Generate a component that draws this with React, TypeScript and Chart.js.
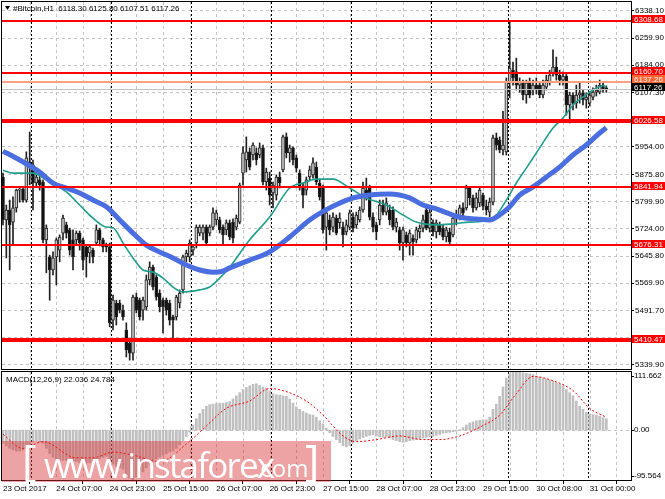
import React, { useEffect, useRef } from "react";
import { Chart, registerables } from "chart.js";
Chart.register(...registerables);

const FONT = "'Liberation Sans', Arial, sans-serif";

// ---------- DATA ----------
const opens = [
  5869, 5748, 5776, 5742, 5782, 5832, 5835, 5804, 5912, 5903,
  5852, 5861, 5855, 5692, 5644, 5607, 5644, 5663, 5711, 5734,
  5720, 5692, 5692, 5711, 5692, 5672, 5655, 5663, 5683, 5720,
  5692, 5677, 5672, 5466, 5514, 5514, 5494, 5438, 5401, 5373,
  5531, 5522, 5494, 5503, 5579, 5615, 5587, 5542, 5522, 5522,
  5514, 5475, 5475, 5514, 5551, 5644, 5644, 5663, 5683, 5711,
  5711, 5728, 5711, 5728, 5748, 5748, 5728, 5720, 5740, 5742,
  5728, 5742, 5880, 5917, 5940, 5931, 5937, 5931, 5951, 5855,
  5866, 5824, 5818, 5869, 5889, 5982, 5937, 5951, 5923, 5880,
  5841, 5832, 5869, 5875, 5897, 5852, 5841, 5728, 5748, 5728,
  5753, 5740, 5728, 5714, 5728, 5756, 5734, 5748, 5776, 5832,
  5838, 5756, 5734, 5748, 5790, 5770, 5776, 5776, 5728, 5720,
  5683, 5706, 5683, 5697, 5692, 5714, 5725, 5776, 5725, 5740,
  5714, 5734, 5725, 5700, 5714, 5706, 5753, 5753, 5782, 5782,
  5838, 5810, 5782, 5796, 5818, 5787, 5770, 5798, 5979, 5973,
  5945, 5940, 6137, 6170, 6165, 6128, 6134, 6100, 6134, 6114,
  6128, 6128, 6100, 6122, 6137, 6162, 6179, 6156, 6142, 6153,
  6072, 6100, 6077, 6100, 6106, 6086, 6077, 6094, 6108, 6108,
  6128, 6118.3,
];
const highs = [
  5880, 5790, 5804, 5813, 5835, 5838, 5841, 5940, 5996, 5917,
  5883, 5875, 5861, 5734, 5649, 5658, 5697, 5706, 5762, 5742,
  5725, 5720, 5717, 5717, 5697, 5677, 5677, 5669, 5734, 5725,
  5697, 5683, 5683, 5536, 5522, 5522, 5508, 5458, 5410, 5536,
  5542, 5528, 5531, 5593, 5630, 5621, 5593, 5551, 5528, 5528,
  5522, 5480, 5536, 5551, 5649, 5663, 5692, 5677, 5734, 5734,
  5734, 5734, 5734, 5782, 5776, 5756, 5734, 5748, 5748, 5751,
  5762, 5852, 5954, 5982, 5951, 5965, 5951, 5965, 5959, 5894,
  5883, 5855, 5875, 5883, 5987, 5993, 5959, 5954, 5931, 5889,
  5852, 5869, 5900, 5923, 5911, 5861, 5846, 5776, 5762, 5768,
  5762, 5768, 5742, 5748, 5776, 5768, 5770, 5785, 5855, 5866,
  5846, 5768, 5742, 5804, 5804, 5810, 5790, 5785, 5753, 5728,
  5728, 5714, 5720, 5706, 5728, 5734, 5762, 5790, 5782, 5748,
  5748, 5742, 5734, 5728, 5725, 5762, 5776, 5790, 5796, 5846,
  5841, 5818, 5824, 5841, 5824, 5804, 5810, 5987, 5993, 5982,
  6054, 6148, 6308, 6193, 6204, 6148, 6142, 6142, 6148, 6142,
  6148, 6137, 6142, 6156, 6170, 6227, 6207, 6170, 6165, 6159,
  6108, 6106, 6128, 6137, 6114, 6106, 6108, 6120, 6128, 6142,
  6137, 6125.8,
];
const lows = [
  5734, 5641, 5607, 5677, 5770, 5798, 5798, 5798, 5847, 5776,
  5841, 5832, 5683, 5599, 5522, 5593, 5565, 5630, 5692, 5697,
  5649, 5607, 5677, 5663, 5607, 5587, 5627, 5627, 5677, 5675,
  5658, 5658, 5447, 5438, 5452, 5486, 5466, 5362, 5353, 5353,
  5486, 5466, 5466, 5494, 5565, 5551, 5522, 5489, 5430, 5480,
  5452, 5416, 5466, 5500, 5542, 5630, 5630, 5649, 5669, 5703,
  5692, 5677, 5703, 5720, 5734, 5711, 5677, 5706, 5692, 5683,
  5720, 5737, 5846, 5883, 5889, 5917, 5903, 5923, 5847, 5832,
  5790, 5782, 5804, 5838, 5883, 5923, 5911, 5903, 5883, 5832,
  5782, 5818, 5861, 5866, 5847, 5804, 5711, 5663, 5706, 5714,
  5706, 5725, 5672, 5706, 5720, 5714, 5725, 5742, 5770, 5804,
  5748, 5714, 5692, 5734, 5762, 5762, 5734, 5720, 5714, 5663,
  5635, 5672, 5649, 5649, 5683, 5697, 5714, 5720, 5714, 5703,
  5697, 5706, 5692, 5686, 5677, 5700, 5734, 5748, 5753, 5776,
  5790, 5770, 5776, 5785, 5776, 5762, 5756, 5790, 5945, 5937,
  5931, 5931, 6092, 6128, 6114, 6108, 6086, 6077, 6092, 6100,
  6103, 6092, 6092, 6114, 6128, 6153, 6142, 6128, 6128, 6043,
  6021, 6058, 6063, 6077, 6072, 6063, 6069, 6086, 6097, 6103,
  6108, 6107.51,
];
const closes = [
  5748, 5776, 5734, 5782, 5832, 5835, 5804, 5923, 5900, 5852,
  5869, 5847, 5692, 5725, 5607, 5641, 5692, 5700, 5753, 5711,
  5663, 5644, 5711, 5683, 5635, 5644, 5672, 5644, 5720, 5692,
  5672, 5672, 5458, 5522, 5475, 5494, 5475, 5382, 5373, 5531,
  5494, 5475, 5522, 5579, 5615, 5559, 5531, 5503, 5503, 5494,
  5466, 5466, 5531, 5542, 5644, 5655, 5683, 5672, 5728, 5728,
  5728, 5683, 5728, 5768, 5768, 5720, 5706, 5740, 5700, 5697,
  5753, 5846, 5937, 5940, 5897, 5959, 5917, 5951, 5855, 5883,
  5818, 5846, 5869, 5852, 5982, 5937, 5951, 5917, 5894, 5841,
  5818, 5861, 5889, 5909, 5855, 5813, 5720, 5768, 5720, 5756,
  5711, 5753, 5706, 5734, 5768, 5725, 5762, 5776, 5838, 5818,
  5756, 5728, 5714, 5790, 5770, 5796, 5748, 5728, 5742, 5683,
  5720, 5683, 5711, 5686, 5720, 5725, 5748, 5725, 5770, 5714,
  5740, 5714, 5700, 5720, 5686, 5753, 5762, 5782, 5768, 5838,
  5810, 5782, 5810, 5832, 5787, 5776, 5798, 5979, 5959, 5945,
  5959, 6137, 6176, 6148, 6128, 6137, 6100, 6134, 6100, 6128,
  6114, 6100, 6128, 6142, 6156, 6179, 6156, 6142, 6153, 6072,
  6100, 6077, 6100, 6106, 6086, 6094, 6100, 6108, 6114, 6128,
  6117, 6117.26,
];

// moving averages (bar index, value)
const slowMaBars = [0, 5, 11, 15, 19, 23, 27, 31, 35, 39, 43, 47, 51, 55, 59, 63, 66, 68, 74, 80, 86, 92, 98, 104, 110, 116, 122, 126, 130, 134, 138, 142, 146, 149, 152, 155, 159, 163, 167, 171, 175, 179, 181];
const slowMaValues = [5942, 5917, 5883, 5852, 5838, 5824, 5804, 5785, 5748, 5711, 5677, 5658, 5641, 5621, 5607, 5601, 5604, 5613, 5635, 5658, 5700, 5748, 5782, 5807, 5818, 5821, 5810, 5790, 5779, 5765, 5754, 5751, 5748, 5762, 5785, 5818, 5841, 5869, 5897, 5931, 5959, 5993, 6008];
const fastMaBars = [0, 3, 9, 13, 19, 23, 27, 31, 33, 36, 39, 42, 45, 48, 51, 54, 59, 62, 65, 68, 74, 80, 86, 90, 94, 99, 104, 109, 115, 120, 124, 130, 135, 140, 145, 148, 151, 154, 157, 161, 165, 168, 171, 174, 177, 180, 181];
const fastMaValues = [5888, 5880, 5880, 5861, 5827, 5790, 5753, 5728, 5726, 5683, 5641, 5607, 5601, 5584, 5559, 5545, 5551, 5559, 5584, 5615, 5692, 5756, 5838, 5852, 5863, 5863, 5838, 5810, 5790, 5762, 5742, 5734, 5737, 5742, 5745, 5762, 5804, 5852, 5894, 5951, 6007, 6035, 6072, 6094, 6114, 6126, 6122];

// MACD main line (histogram) per bar
const macdValues = [
  -25, -30, -35, -38, -40, -40, -38, -35, -30,
  -22, -20, -22, -25, -35, -45,
  -52, -55, -57, -58, -58, -58, -60, -60, -62,
  -62, -63, -62, -60, -57, -55, -52, -50,
  -58, -65, -70, -72, -75, -85, -92, -95.564, -90,
  -85, -80, -72, -65, -60, -55, -52, -48,
  -45, -42, -40, -35, -28, -20, -12, -4,
  10, 22, 32, 40, 46, 49, 50, 51,
  52, 52, 53, 55, 60, 66, 72, 78,
  82, 85, 88, 89, 86, 83, 80, 75, 70, 68, 67, 66, 65, 60, 52, 45, 40, 36, 33, 30, 29, 25, 18, 12, 4,
  -5, -12, -18, -24, -30, -32, -30, -25, -20,
  -17, -14, -12, -10, -9, -11, -13, -14, -13,
  -15, -18, -20, -22, -23, -22, -20, -19, -18, -17,
  -15, -14, -13, -12, -10, -8, -6, -5, -4, -3, -2, 1,
  5, 10, 14, 16, 18, 19, 20, 20, 25,
  40, 50, 65, 83, 100, 108, 111, 111.662,
  111, 110, 109, 108, 107, 104, 102, 100, 98,
  96, 94, 91, 88, 85, 78, 72, 66, 56,
  46, 40, 34, 31, 30, 29, 27, 24, 22.036,
];
const signalBars = [0, 6, 12, 22, 27, 33, 39, 47, 56, 60, 67, 74, 80, 84, 91, 96, 102, 106, 112, 119, 126, 131, 137, 144, 149, 154, 159, 164, 171, 176, 181];
const signalValues = [-8, -35, -22, -53, -53, -42, -48, -60, -21, 2, 42, 56, 80, 76, 56, 29, -11, -22, -18, -11, -18, -18, -11, 9, 29, 70, 103, 97, 76, 42, 24.784];

// levels
const levelValues = [6308.68, 6160.70, 6137.26, 6117.26, 6026.58, 5841.94, 5676.31, 5410.47];
const priceTicks = [6338.10, 6259.90, 6184.00, 6107.30, 6030.60, 5954.00, 5875.80, 5799.90, 5724.00, 5645.80, 5569.90, 5491.70, 5415.80, 5339.90];
const macdTicks = [111.662, 0, -95.564];

// time axis
const labelBars = [0, 16, 32, 48, 64, 80, 96, 112, 128, 144, 160, 176];
const timeLabels = ["23 Oct 2017", "24 Oct 07:00", "24 Oct 23:00", "25 Oct 15:00", "26 Oct 07:00", "26 Oct 23:00", "27 Oct 15:00", "28 Oct 07:00", "28 Oct 23:00", "29 Oct 15:00", "30 Oct 08:00", "31 Oct 00:00"];
const gridBars = [8, 16, 24, 32, 40, 48, 56, 64, 72, 80, 88, 96, 104, 112, 120, 128, 136, 144, 152, 160, 168, 176, 184];
const sepBars = [9, 33, 57, 81, 105, 129, 152, 176];

const headerText = "#Bitcoin,H1  6118.30 6125.80 6107.51 6117.26";
const macdTitle = "MACD(12,26,9) 22.036 24.784";

// ---------- STYLES ----------
const levelColors = ["#ff0000", "#ff0000", "#ffa080", "#c0c0c0", "#ff0000", "#ff0000", "#ff0000", "#ff0000"];
const levelWidths = [2, 2, 2, 1, 4, 2, 2, 4];
const levelBoxColors = ["#ff0000", "#ff0000", "#ff6433", "#000000", "#ff0000", "#ff0000", "#ff0000", "#ff0000"];
const levelBoxShift = [-1.5, -2, -2.5, -1.5, -1, -1, -1, -1];

const X_MIN = -0.3;
const X_MAX = 188.4;

function drawVGrid(chart: any) {
  const { ctx, chartArea: a, scales } = chart;
  const x = scales.x;
  ctx.save();
  ctx.lineWidth = 1;
  ctx.strokeStyle = "#c4c4c4";
  ctx.setLineDash([3, 3]);
  gridBars.forEach((b) => {
    const px = Math.round(x.getPixelForValue(b)) + 0.5;
    if (px < a.left || px > a.right) return;
    ctx.beginPath();
    ctx.moveTo(px, a.top);
    ctx.lineTo(px, a.bottom);
    ctx.stroke();
  });
  ctx.strokeStyle = "#000";
  ctx.setLineDash([2, 2]);
  sepBars.forEach((b) => {
    const px = Math.round(x.getPixelForValue(b - 0.5)) + 0.5;
    ctx.beginPath();
    ctx.moveTo(px, a.top);
    ctx.lineTo(px, a.bottom);
    ctx.stroke();
  });
  ctx.restore();
}

const mainPlugin = {
  id: "mainDecor",
  beforeDatasetsDraw(chart: any) {
    drawVGrid(chart);
  },
  afterDatasetsDraw(chart: any) {
    const { ctx, chartArea: a, scales } = chart;
    const y = scales.y;
    ctx.save();
    levelValues.forEach((v, i) => {
      const py = y.getPixelForValue(v);
      const w = levelWidths[i];
      const yy = w % 2 === 1 ? Math.round(py) + 0.5 : Math.round(py);
      ctx.strokeStyle = levelColors[i];
      ctx.lineWidth = w;
      ctx.beginPath();
      ctx.moveTo(a.left, yy);
      ctx.lineTo(a.right, yy);
      ctx.stroke();
    });
    ctx.restore();
  },
  afterDraw(chart: any) {
    const { ctx, chartArea: a, scales } = chart;
    const y = scales.y;
    ctx.save();
    // frame
    ctx.strokeStyle = "#000";
    ctx.lineWidth = 1;
    ctx.strokeRect(1.5, 1.5, a.right - 1, a.bottom - 1);
    // level boxes
    ctx.font = `8px ${FONT}`;
    ctx.textBaseline = "middle";
    ctx.textAlign = "left";
    levelValues.forEach((v, i) => {
      const py = y.getPixelForValue(v) + levelBoxShift[i];
      ctx.fillStyle = levelBoxColors[i];
      ctx.fillRect(a.right + 1, Math.round(py - 4), 665 - a.right, 8);
      ctx.fillStyle = "#fff";
      ctx.fillText(v.toFixed(2), a.right + 3, Math.round(py) + 0.5);
    });
    // header
    ctx.fillStyle = "#000";
    ctx.beginPath();
    ctx.moveTo(5, 6);
    ctx.lineTo(10, 6);
    ctx.lineTo(7.5, 10);
    ctx.closePath();
    ctx.fill();
    ctx.fillText(headerText, 13, 8.5);
    ctx.restore();
  },
};

const macdPlugin = {
  id: "macdDecor",
  beforeDatasetsDraw(chart: any) {
    drawVGrid(chart);
    const { ctx, chartArea: a, scales } = chart;
    const zy = Math.round(scales.y.getPixelForValue(0)) + 0.5;
    ctx.save();
    ctx.strokeStyle = "#c4c4c4";
    ctx.setLineDash([3, 3]);
    ctx.beginPath();
    ctx.moveTo(a.left, zy);
    ctx.lineTo(a.right, zy);
    ctx.stroke();
    ctx.restore();
  },
  afterDraw(chart: any) {
    const { ctx, chartArea: a, scales } = chart;
    ctx.save();
    ctx.strokeStyle = "#000";
    ctx.lineWidth = 1;
    ctx.strokeRect(1.5, a.top - 0.5, a.right - 1, a.bottom - a.top + 1);
    ctx.font = `8px ${FONT}`;
    ctx.fillStyle = "#000";
    ctx.textBaseline = "middle";
    ctx.textAlign = "left";
    ctx.fillText(macdTitle, 6, a.top + 8);
    macdTicks.forEach((v, i) => {
      let py = scales.y.getPixelForValue(v);
      if (i === 0) py += 4;
      if (i === macdTicks.length - 1) py -= 4;
      const label = v === 0 ? "0.00" : v.toFixed(3);
      ctx.beginPath();
      ctx.moveTo(a.right, Math.round(py) + 0.5);
      ctx.lineTo(a.right + 3, Math.round(py) + 0.5);
      ctx.stroke();
      ctx.fillText(label, a.right + 3, py);
    });
    ctx.restore();
  },
};

export default function App() {
  const mainRef = useRef<HTMLCanvasElement>(null);
  const macdRef = useRef<HTMLCanvasElement>(null);

  useEffect(() => {
    document.body.style.margin = "0";
    const bars = opens.map((_, i) => i);
    const wickData = bars.map((i) => ({ x: i, y: [lows[i], highs[i]] }));
    const bodyData = bars.map((i) => ({ x: i, y: [opens[i], closes[i]] }));
    const slowData = slowMaBars.map((b, i) => ({ x: b, y: slowMaValues[i] }));
    const fastData = fastMaBars.map((b, i) => ({ x: b, y: fastMaValues[i] }));

    const main = new Chart(mainRef.current!, {
      type: "bar",
      data: {
        datasets: [
          {
            type: "line",
            data: slowData as any,
            borderColor: "#4a6ee0",
            borderWidth: 5,
            pointRadius: 0,
            cubicInterpolationMode: "monotone",
            order: 1,
          } as any,
          {
            type: "line",
            data: fastData as any,
            borderColor: "#1f9e8e",
            borderWidth: 1.6,
            pointRadius: 0,
            cubicInterpolationMode: "monotone",
            order: 2,
          } as any,
          {
            type: "bar",
            data: bodyData as any,
            backgroundColor: (c: any) => (closes[c.dataIndex] >= opens[c.dataIndex] ? "#c8c8c8" : "#101010"),
            borderColor: "#202020",
            borderWidth: 1,
            borderSkipped: false,
            barThickness: 3,
            minBarLength: 1,
            grouped: false,
            order: 4,
          } as any,
          {
            type: "bar",
            data: wickData as any,
            backgroundColor: "#202020",
            barThickness: 1,
            grouped: false,
            order: 5,
          } as any,
        ],
      },
      options: {
        responsive: false,
        animation: false,
        events: [],
        layout: { padding: { left: 2, top: 2, right: 0, bottom: 1 } },
        plugins: { legend: { display: false }, tooltip: { enabled: false } },
        scales: {
          x: { type: "linear", min: X_MIN, max: X_MAX, display: false, offset: false },
          y: {
            position: "right",
            min: 5328.1,
            max: 6362.0,
            afterBuildTicks: (s: any) => {
              s.ticks = priceTicks.map((v) => ({ value: v }));
            },
            afterFit: (s: any) => {
              s.width = 34;
              s.paddingTop = 0;
              s.paddingBottom = 0;
            },
            ticks: {
              callback: (v: any) => Number(v).toFixed(2),
              font: { family: FONT, size: 8 },
              color: "#000",
              padding: 1,
            },
            grid: { color: "#c4c4c4", tickColor: "#000", tickLength: 3, tickBorderDash: [] },
            border: { display: false, dash: [3, 3] },
          },
        },
      } as any,
      plugins: [mainPlugin],
    });

    const histData = bars.map((i) => ({ x: i, y: macdValues[i] }));
    const sigData = signalBars.map((b, i) => ({ x: b, y: signalValues[i] }));

    const macd = new Chart(macdRef.current!, {
      type: "bar",
      data: {
        datasets: [
          {
            type: "line",
            data: sigData as any,
            borderColor: "#ff0000",
            borderWidth: 1,
            borderDash: [2, 2],
            pointRadius: 0,
            cubicInterpolationMode: "monotone",
            order: 1,
          } as any,
          {
            type: "bar",
            data: histData as any,
            backgroundColor: "#c0c0c0",
            barThickness: 2,
            grouped: false,
            order: 2,
          } as any,
        ],
      },
      options: {
        responsive: false,
        animation: false,
        events: [],
        layout: { padding: { left: 2, top: 2, right: 0, bottom: 0 } },
        plugins: { legend: { display: false }, tooltip: { enabled: false } },
        scales: {
          x: {
            type: "linear",
            min: X_MIN,
            max: X_MAX,
            offset: false,
            afterBuildTicks: (s: any) => {
              s.ticks = labelBars.map((v) => ({ value: v }));
            },
            afterFit: (s: any) => {
              s.height = 19;
              s.paddingLeft = 0;
              s.paddingRight = 0;
            },
            ticks: {
              callback: (_v: any, idx: number) => timeLabels[idx],
              align: "start",
              autoSkip: false,
              maxRotation: 0,
              minRotation: 0,
              padding: 0,
              font: { family: FONT, size: 8 },
              color: "#000",
            },
            grid: { drawOnChartArea: false, drawTicks: true, tickLength: 4, tickColor: "#000" },
            border: { display: false },
          },
          y: {
            position: "right",
            min: -95.564,
            max: 111.662,
            afterFit: (s: any) => {
              s.width = 34;
              s.paddingTop = 0;
              s.paddingBottom = 0;
            },
            ticks: { display: false },
            grid: { display: false },
            border: { display: false },
          },
        },
      } as any,
      plugins: [macdPlugin],
    });

    return () => {
      main.destroy();
      macd.destroy();
    };
  }, []);

  return (
    <div style={{ position: "relative", width: 665, height: 499, background: "#fff", overflow: "hidden" }}>
      <canvas ref={mainRef} width={665} height={370} style={{ position: "absolute", left: 0, top: 0, width: 665, height: 370 }} />
      <canvas ref={macdRef} width={665} height={129} style={{ position: "absolute", left: 0, top: 370, width: 665, height: 129 }} />
      <div
        style={{
          position: "absolute",
          left: 2,
          top: 441,
          width: 329,
          height: 41,
          background: "rgba(215,50,50,0.45)",
          overflow: "hidden",
          color: "#fff",
          fontFamily: "'Open Sans', sans-serif",
          whiteSpace: "nowrap",
          lineHeight: 1,
        }}
      >
        <span style={{ position: "absolute", left: 20, top: -4, fontSize: 44 }}>[</span>
        <span style={{ position: "absolute", left: 42, top: 6, fontSize: 35, letterSpacing: -1.8 }}>www.instaforex</span>
        <span style={{ position: "absolute", left: 252, top: 15, fontSize: 24 }}>.com</span>
        <span style={{ position: "absolute", left: 303, top: -4, fontSize: 44 }}>]</span>
      </div>
    </div>
  );
}
